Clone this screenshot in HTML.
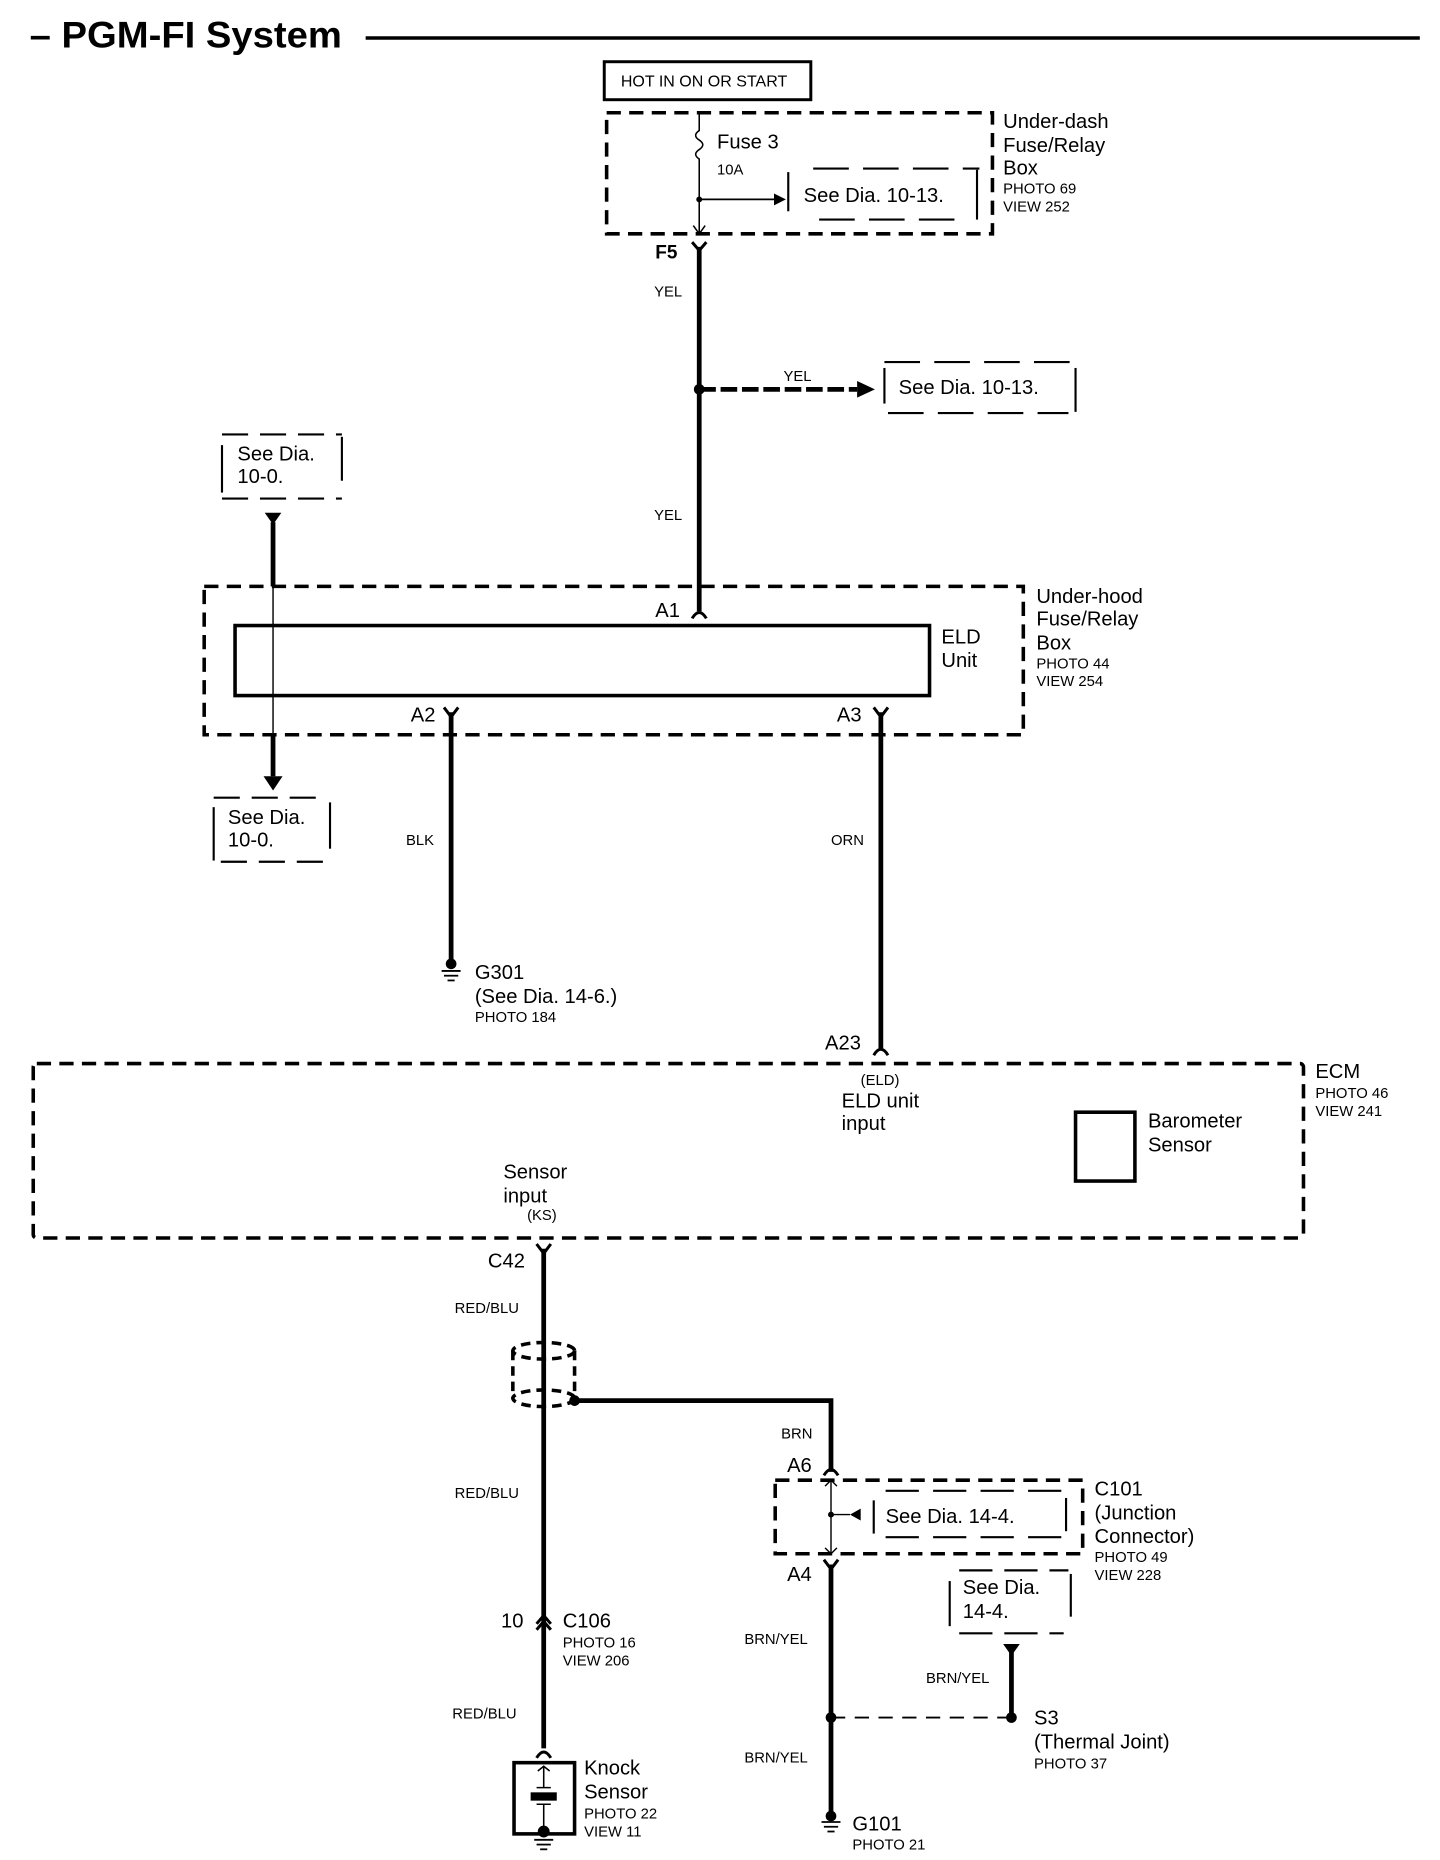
<!DOCTYPE html>
<html><head><meta charset="utf-8"><style>
html,body{margin:0;padding:0;background:#fff;}
svg{display:block;}
text{font-family:"Liberation Sans",Arial,sans-serif;fill:#000;}
.l{font-size:17px;}
.s{font-size:12.5px;}
.b{font-weight:bold;}
</style></head><body>
<svg width="1440" height="1860" viewBox="0 0 1213 1567" preserveAspectRatio="none" xmlns="http://www.w3.org/2000/svg">
<g fill="none" stroke="#000">
<line x1="308" y1="32" x2="1196" y2="32" stroke-width="3"/>
<rect x="509" y="52" width="174" height="32" stroke-width="2.5"/>
<rect x="511" y="95" width="325" height="102" stroke-width="3" stroke-dasharray="12,7"/>
<path d="M589 95 V110 q-6 4 0 8 q6 4 0 8 q-6 4 0 8 V197" stroke-width="1.3"/>
<path d="M584 190 L589 197 L594 190" stroke-width="1.3"/>
<line x1="589" y1="168" x2="652" y2="168" stroke-width="1.5"/>
<line x1="685" y1="142" x2="825" y2="142" stroke-width="1.8" stroke-dasharray="30,12"/>
<line x1="664" y1="145" x2="664" y2="178" stroke-width="1.8"/>
<line x1="823" y1="143" x2="823" y2="185" stroke-width="1.8"/>
<line x1="690" y1="185" x2="805" y2="185" stroke-width="1.8" stroke-dasharray="30,12"/>
<line x1="589" y1="208" x2="589" y2="515" stroke-width="4"/>
<path d="M583 204 L589 211 L595 204" stroke-width="2.5"/>
<line x1="589" y1="328" x2="722" y2="328" stroke-width="4" stroke-dasharray="14,4"/>
<line x1="745" y1="305" x2="905" y2="305" stroke-width="1.8" stroke-dasharray="30,12"/>
<line x1="745" y1="310" x2="745" y2="340" stroke-width="1.8"/>
<line x1="906" y1="310" x2="906" y2="347" stroke-width="1.8"/>
<line x1="748" y1="348" x2="900" y2="348" stroke-width="1.8" stroke-dasharray="30,12"/>
<line x1="187" y1="366" x2="288" y2="366" stroke-width="1.8" stroke-dasharray="22,10"/>
<line x1="187" y1="375" x2="187" y2="415" stroke-width="1.8"/>
<line x1="288" y1="368" x2="288" y2="405" stroke-width="1.8"/>
<line x1="187" y1="420" x2="288" y2="420" stroke-width="1.8" stroke-dasharray="22,10"/>
<line x1="230" y1="440" x2="230" y2="494" stroke-width="4"/>
<line x1="230" y1="494" x2="230" y2="620" stroke-width="1.2"/>
<line x1="230" y1="620" x2="230" y2="654" stroke-width="4"/>
<line x1="180" y1="672" x2="270" y2="672" stroke-width="1.8" stroke-dasharray="22,10"/>
<line x1="180" y1="680" x2="180" y2="725" stroke-width="1.8"/>
<line x1="278" y1="676" x2="278" y2="715" stroke-width="1.8"/>
<line x1="186" y1="726" x2="272" y2="726" stroke-width="1.8" stroke-dasharray="22,10"/>
<rect x="172" y="494" width="690" height="125" stroke-width="3" stroke-dasharray="12,7"/>
<rect x="198" y="527" width="585" height="59" stroke-width="3"/>
<path d="M583 521 q6 -10 12 0" stroke-width="2.5"/>
<path d="M374 596 L380 604 L386 596" stroke-width="2.5"/>
<line x1="380" y1="600" x2="380" y2="810" stroke-width="4"/>
<path d="M736 596 L742 604 L748 596" stroke-width="2.5"/>
<line x1="742" y1="600" x2="742" y2="883" stroke-width="4"/>
<path d="M736 889 q6 -10 12 0" stroke-width="2.5"/>
<line x1="372" y1="818" x2="388" y2="818" stroke-width="1.5"/>
<line x1="374" y1="822" x2="386" y2="822" stroke-width="1.5"/>
<line x1="377" y1="826" x2="383" y2="826" stroke-width="1.5"/>
<rect x="28" y="896" width="1070" height="147" rx="3" stroke-width="3" stroke-dasharray="12,7"/>
<rect x="906" y="937" width="50" height="58" stroke-width="3"/>
<path d="M452 1048 L458 1056 L464 1048" stroke-width="2.5"/>
<line x1="458" y1="1052" x2="458" y2="1473" stroke-width="4"/>
<g stroke-width="3" stroke-dasharray="8,5">
<ellipse cx="458" cy="1138" rx="26" ry="7"/>
<ellipse cx="458" cy="1178" rx="26" ry="7"/>
<line x1="432" y1="1138" x2="432" y2="1178"/>
<line x1="484" y1="1138" x2="484" y2="1178"/>
</g>
<path d="M484 1180 H700 V1240" stroke-width="4"/>
<path d="M694 1243 q6 -10 12 0" stroke-width="2.5"/>
<rect x="653" y="1247" width="259" height="62" stroke-width="3" stroke-dasharray="12,7"/>
<line x1="700" y1="1247" x2="700" y2="1309" stroke-width="1.2"/>
<path d="M695 1252 L700 1247 L705 1252 M695 1304 L700 1309 L705 1304" stroke-width="1.2"/>
<line x1="700" y1="1276" x2="716" y2="1276" stroke-width="1.2"/>
<line x1="746" y1="1256" x2="898" y2="1256" stroke-width="1.8" stroke-dasharray="28,12"/>
<line x1="736" y1="1264" x2="736" y2="1292" stroke-width="1.8"/>
<line x1="898" y1="1262" x2="898" y2="1290" stroke-width="1.8"/>
<line x1="746" y1="1295" x2="896" y2="1295" stroke-width="1.8" stroke-dasharray="28,12"/>
<path d="M694 1314 L700 1322 L706 1314" stroke-width="2.5"/>
<line x1="700" y1="1318" x2="700" y2="1528" stroke-width="4"/>
<line x1="808" y1="1323" x2="900" y2="1323" stroke-width="1.8" stroke-dasharray="28,10"/>
<line x1="800" y1="1332" x2="800" y2="1370" stroke-width="1.8"/>
<line x1="902" y1="1326" x2="902" y2="1362" stroke-width="1.8"/>
<line x1="808" y1="1376" x2="896" y2="1376" stroke-width="1.8" stroke-dasharray="28,10"/>
<line x1="852" y1="1392" x2="852" y2="1447" stroke-width="4"/>
<line x1="700" y1="1447" x2="852" y2="1447" stroke-width="1.5" stroke-dasharray="12,8"/>
<line x1="692" y1="1535" x2="708" y2="1535" stroke-width="1.5"/>
<line x1="694" y1="1539" x2="706" y2="1539" stroke-width="1.5"/>
<line x1="697" y1="1543" x2="703" y2="1543" stroke-width="1.5"/>
<path d="M452 1368 L458 1361 L464 1368 M452 1373 L458 1366 L464 1373" stroke-width="2.5"/>
<path d="M452 1481 q6 -10 12 0" stroke-width="2.5"/>
<rect x="433" y="1485" width="51" height="60" stroke-width="3"/>
<path d="M453 1492 L458 1488 L463 1492 M458 1488 V1506 M452 1506 H464 M458 1520 V1540 M452 1520 H464" stroke-width="1.3"/>
<line x1="450" y1="1550" x2="466" y2="1550" stroke-width="1.5"/>
<line x1="452" y1="1554" x2="464" y2="1554" stroke-width="1.5"/>
<line x1="455" y1="1558" x2="461" y2="1558" stroke-width="1.5"/>
</g>
<g fill="#000">
<circle cx="589" cy="168" r="2.5"/>
<polygon points="652,163 662,168 652,173"/>
<circle cx="589" cy="328" r="4.5"/>
<polygon points="722,321 737,328 722,335"/>
<polygon points="223,432 237,432 230,442"/>
<polygon points="222,654 238,654 230,666"/>
<circle cx="380" cy="812" r="4.5"/>
<circle cx="484" cy="1180" r="4.5"/>
<circle cx="700" cy="1276" r="2.5"/>
<polygon points="725,1271 716,1276 725,1281"/>
<polygon points="845,1385 859,1385 852,1395"/>
<circle cx="852" cy="1447" r="4.5"/>
<circle cx="700" cy="1447" r="4.5"/>
<circle cx="700" cy="1530" r="4.5"/>
<rect x="447" y="1510" width="22" height="7"/>
<circle cx="458" cy="1543" r="5"/>
</g>
<text x="25" y="40" class="b" style="font-size:31px" textLength="263" lengthAdjust="spacingAndGlyphs">– PGM-FI System</text>
<text x="523" y="73" style="font-size:13.5px">HOT IN ON OR START</text>
<text x="845" y="108" class="l">Under-dash</text>
<text x="845" y="128" class="l">Fuse/Relay</text>
<text x="845" y="147" class="l">Box</text>
<text x="845" y="163" class="s">PHOTO 69</text>
<text x="845" y="178" class="s">VIEW 252</text>
<text x="604" y="125" class="l">Fuse 3</text>
<text x="604" y="147" class="s">10A</text>
<text x="677" y="170" class="l">See Dia. 10-13.</text>
<text x="552" y="218" class="l b" style="font-size:16px">F5</text>
<text x="551" y="250" class="s">YEL</text>
<text x="660" y="321" class="s">YEL</text>
<text x="757" y="332" class="l">See Dia. 10-13.</text>
<text x="551" y="438" class="s">YEL</text>
<text x="200" y="388" class="l">See Dia.</text>
<text x="200" y="407" class="l">10-0.</text>
<text x="552" y="520" class="l">A1</text>
<text x="793" y="542" class="l">ELD</text>
<text x="793" y="562" class="l">Unit</text>
<text x="873" y="508" class="l">Under-hood</text>
<text x="873" y="527" class="l">Fuse/Relay</text>
<text x="873" y="547" class="l">Box</text>
<text x="873" y="563" class="s">PHOTO 44</text>
<text x="873" y="578" class="s">VIEW 254</text>
<text x="346" y="608" class="l">A2</text>
<text x="705" y="608" class="l">A3</text>
<text x="192" y="694" class="l">See Dia.</text>
<text x="192" y="713" class="l">10-0.</text>
<text x="342" y="712" class="s">BLK</text>
<text x="700" y="712" class="s">ORN</text>
<text x="400" y="825" class="l">G301</text>
<text x="400" y="845" class="l">(See Dia. 14-6.)</text>
<text x="400" y="861" class="s">PHOTO 184</text>
<text x="695" y="884" class="l">A23</text>
<text x="1108" y="908" class="l">ECM</text>
<text x="1108" y="925" class="s">PHOTO 46</text>
<text x="1108" y="940" class="s">VIEW 241</text>
<text x="725" y="914" class="s">(ELD)</text>
<text x="709" y="933" class="l">ELD unit</text>
<text x="709" y="952" class="l">input</text>
<text x="967" y="950" class="l">Barometer</text>
<text x="967" y="970" class="l">Sensor</text>
<text x="424" y="993" class="l">Sensor</text>
<text x="424" y="1013" class="l">input</text>
<text x="444" y="1028" class="s">(KS)</text>
<text x="411" y="1068" class="l">C42</text>
<text x="383" y="1106" class="s">RED/BLU</text>
<text x="658" y="1212" class="s">BRN</text>
<text x="663" y="1240" class="l">A6</text>
<text x="383" y="1262" class="s">RED/BLU</text>
<text x="746" y="1283" class="l">See Dia. 14-4.</text>
<text x="922" y="1260" class="l">C101</text>
<text x="922" y="1280" class="l">(Junction</text>
<text x="922" y="1300" class="l">Connector)</text>
<text x="922" y="1316" class="s">PHOTO 49</text>
<text x="922" y="1331" class="s">VIEW 228</text>
<text x="663" y="1332" class="l">A4</text>
<text x="811" y="1343" class="l">See Dia.</text>
<text x="811" y="1363" class="l">14-4.</text>
<text x="422" y="1371" class="l">10</text>
<text x="474" y="1371" class="l">C106</text>
<text x="474" y="1388" class="s">PHOTO 16</text>
<text x="474" y="1403" class="s">VIEW 206</text>
<text x="627" y="1385" class="s">BRN/YEL</text>
<text x="780" y="1418" class="s">BRN/YEL</text>
<text x="381" y="1448" class="s">RED/BLU</text>
<text x="871" y="1453" class="l">S3</text>
<text x="871" y="1473" class="l">(Thermal Joint)</text>
<text x="871" y="1490" class="s">PHOTO 37</text>
<text x="627" y="1485" class="s">BRN/YEL</text>
<text x="492" y="1495" class="l">Knock</text>
<text x="492" y="1515" class="l">Sensor</text>
<text x="492" y="1532" class="s">PHOTO 22</text>
<text x="492" y="1547" class="s">VIEW 11</text>
<text x="718" y="1542" class="l">G101</text>
<text x="718" y="1558" class="s">PHOTO 21</text>
</svg>
</body></html>
